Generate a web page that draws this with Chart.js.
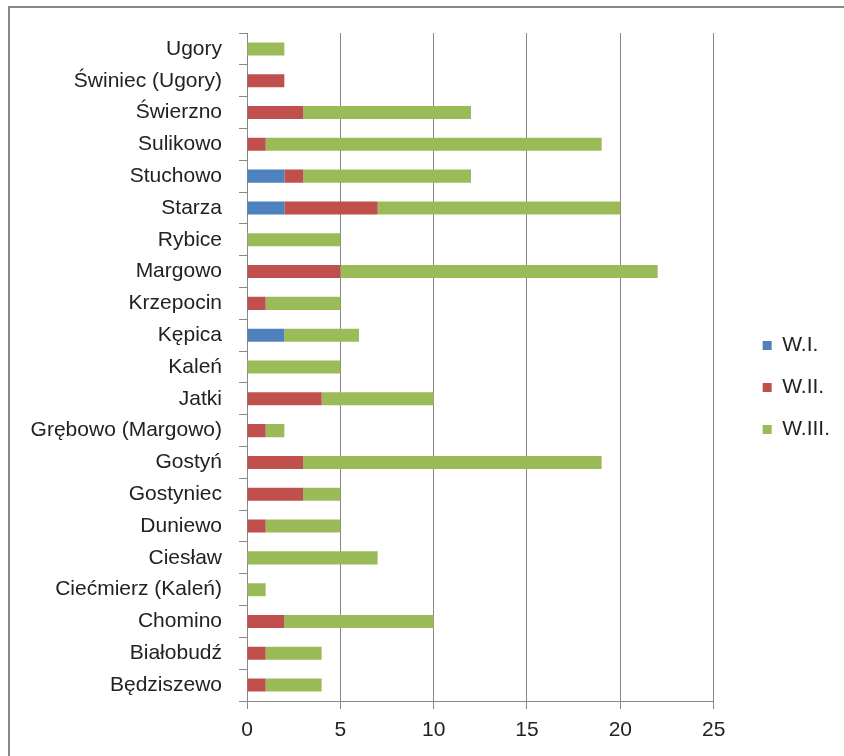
<!DOCTYPE html>
<html>
<head>
<meta charset="utf-8">
<script src="https://cdn.jsdelivr.net/npm/chart.js@4.4.0/dist/chart.umd.min.js"></script>
<style>
  body { margin: 0; background: #fff; overflow: hidden; }
  #wrap { position: relative; width: 844px; height: 756px; }
  #frame { position: absolute; left: 8px; top: 6px; width: 1000px; height: 1000px; border: 2px solid #878787; pointer-events: none; }
</style>
</head>
<body>
<div id="wrap">
  <canvas id="chart1" width="844" height="756"></canvas>
  <div id="frame"></div>
</div>
<script>
let villages = ["Ugory", "Świniec (Ugory)", "Świerzno", "Sulikowo", "Stuchowo", "Starza", "Rybice", "Margowo", "Krzepocin", "Kępica", "Kaleń", "Jatki", "Grębowo (Margowo)", "Gostyń", "Gostyniec", "Duniewo", "Ciesław", "Ciećmierz (Kaleń)", "Chomino", "Białobudź", "Będziszewo"];
let w1 = [0, 0, 0, 0, 2, 2, 0, 0, 0, 2, 0, 0, 0, 0, 0, 0, 0, 0, 0, 0, 0];
let w2 = [0, 2, 3, 1, 1, 5, 0, 5, 1, 0, 0, 4, 1, 3, 3, 1, 0, 0, 2, 1, 1];
let w3 = [2, 0, 9, 18, 9, 13, 5, 17, 4, 4, 5, 6, 1, 16, 2, 4, 7, 1, 8, 3, 3];
let seriesNames = ["W.I.", "W.II.", "W.III."];
let colors = ["#4F81BD", "#C0504D", "#9BBB59"];
let xTicks = [0, 5, 10, 15, 20, 25];

let font = { family: "'Liberation Sans', Arial, sans-serif", size: 21 };
let gray = "#878787";

let chart1 = new Chart(document.getElementById("chart1").getContext("2d"), {
  type: "bar",
  data: {
    labels: villages,
    datasets: [w1, w2, w3].map((d, i) => ({
      label: seriesNames[i],
      data: d,
      backgroundColor: colors[i],
      borderWidth: 0,
      barPercentage: 0.41,
      categoryPercentage: 1,
    })),
  },
  options: {
    indexAxis: "y",
    responsive: false,
    animation: false,
    layout: { padding: { top: 33, right: 4, bottom: 14, left: 0 } },
    scales: {
      x: {
        stacked: true,
        min: 0,
        max: 25,
        afterBuildTicks: (s) => { s.ticks = xTicks.map((v) => ({ value: v })); },
        afterFit: (s) => { s.height = 41; },
        grid: { color: gray, tickLength: 8 },
        border: { color: gray },
        ticks: { font: font, color: "#222", padding: 9 },
      },
      y: {
        stacked: true,
        afterFit: (s) => { s.width = 247; },
        grid: { color: gray, drawOnChartArea: false, tickLength: 8, offset: true },
        border: { color: gray },
        ticks: { font: font, color: "#222", padding: 17 },
      },
      gap: {
        type: "linear",
        position: "right",
        afterFit: (s) => { s.width = 28; },
        grid: { display: false },
        border: { display: false },
        ticks: { display: false },
      },
    },
    plugins: {
      legend: {
        position: "right",
        labels: { font: font, color: "#222", boxWidth: 9, boxHeight: 9, padding: 21 },
      },
      tooltip: { enabled: false },
    },
  },
});
</script>
</body>
</html>
